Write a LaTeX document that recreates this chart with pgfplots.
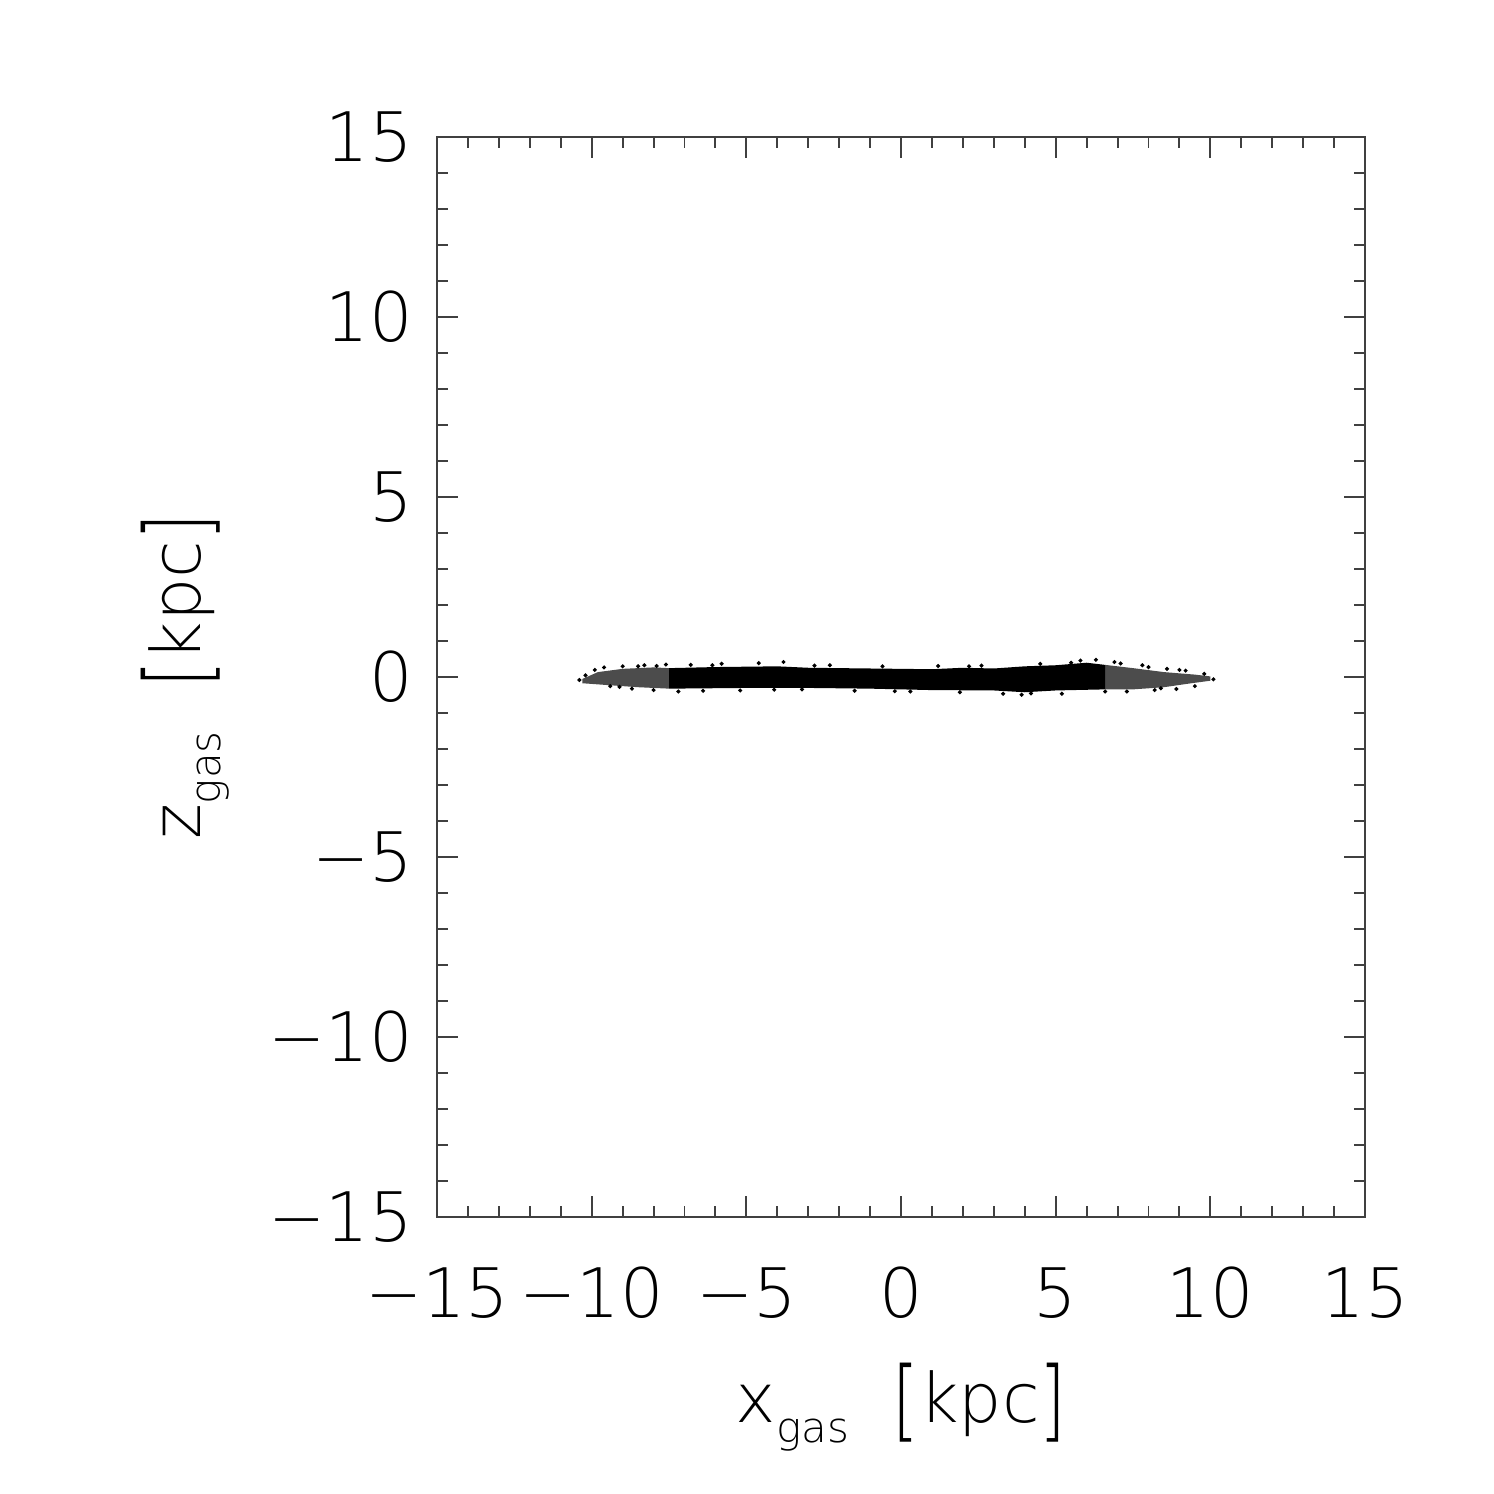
\documentclass[border=0pt]{standalone}
\usepackage{fontspec}
\setmainfont{DejaVu Sans ExtraLight}
\usepackage{pgfplots}
\pgfplotsset{compat=1.18}
\newcommand{\sub}[1]{\raisebox{-0.55ex}{\fontsize{12}{13}\selectfont #1}}
\newcommand{\br}[1]{\raisebox{-0.12em}{\scalebox{1}[1.3]{#1}}}
\begin{document}
\begin{tikzpicture}
\begin{axis}[
  scale only axis,
  width=9.317cm, height=10.843cm,
  xmin=-15, xmax=15, ymin=-15, ymax=15,
  xtick={-15,-10,-5,0,5,10,15},
  ytick={-15,-10,-5,0,5,10,15},
  xticklabels={−15,−10,−5,0,5,10,15},
  yticklabels={−15,−10,−5,0,5,10,15},
  minor x tick num=4, minor y tick num=4,
  tick align=inside,
  major tick length=0.21cm, minor tick length=0.11cm,
  axis line style={line width=0.55pt, black!75},
  every tick/.style={line width=0.55pt, black!75},
  ticklabel style={font=\fontsize{19.5}{22}\selectfont},
  xticklabel style={yshift=-0.38cm},
  yticklabel style={xshift=-0.12cm},
  label style={font=\fontsize{19.5}{22}\selectfont},
  xlabel={x\sub{gas}\ \ \br{[}kpc\br{]}},
  ylabel={z\sub{gas}\ \ \br{[}kpc\br{]}},
  xlabel style={yshift=-0.2cm},
  ylabel style={yshift=0.15cm},
  clip=false,
]
% dense core of the gas disc
\addplot[fill=black, draw=none] coordinates {
(-7.5,0.25) (-6,0.28) (-4,0.3) (-3,0.26) (-1,0.24) (1,0.22) (2,0.26) (3,0.24) (4,0.3) (5,0.33) (6,0.4) (6.6,0.34)
(6.6,-0.34) (5,-0.37) (4,-0.42) (3,-0.37) (1,-0.36) (0,-0.34) (-1,-0.32) (-3,-0.3) (-5,-0.3) (-7.5,-0.32)
} -- cycle;
% sparse outer parts
\addplot[fill=black, fill opacity=0.7, draw=none] coordinates {
(-10.3,-0.05) (-9.8,0.14) (-9,0.23) (-8,0.27) (-7.5,0.25)
(-7.5,-0.32) (-8.5,-0.28) (-9.5,-0.22) (-10.3,-0.17)
} -- cycle;
\addplot[fill=black, fill opacity=0.7, draw=none] coordinates {
(6.6,0.34) (7.5,0.25) (8.5,0.14) (9.5,0.07) (10,0.02)
(10,-0.1) (9.3,-0.18) (8.5,-0.28) (7.5,-0.34) (6.6,-0.34)
} -- cycle;
% stray particles
\addplot[only marks, mark=*, mark size=0.35pt, black] coordinates {
(-10.4,-0.08) (-10.2,0.05) (-9.9,0.2) (-9.6,0.27) (-9.4,-0.25) (-9.0,0.3) (-8.7,-0.32)
(-8.3,0.33) (-8.0,-0.36) (-7.6,0.35) (-7.2,-0.4) (-6.8,0.34) (-6.4,-0.38) (-5.8,0.37)
(-5.2,-0.37) (-4.6,0.39) (-3.8,0.42) (-3.2,-0.34) (-2.3,0.33) (-1.5,-0.38) (-0.6,0.3)
(0.3,-0.4) (1.2,0.31) (1.9,-0.42) (2.6,0.32) (3.3,-0.46) (3.9,-0.49) (4.5,0.37)
(5.2,-0.46) (5.8,0.46) (6.3,0.48) (6.9,0.42) (7.3,-0.4) (7.8,0.33) (8.2,-0.36)
(8.6,0.23) (8.9,-0.33) (9.2,0.18) (9.5,-0.25) (9.8,0.09) (10.1,-0.06)
(-9.1,-0.27) (-8.5,0.3) (-7.9,0.31) (-6.1,0.33) (-4.1,-0.35) (-2.8,0.32) (-0.2,-0.39)
(2.2,0.3) (4.2,-0.45) (5.5,0.4) (6.6,-0.4) (7.1,0.38) (8.0,0.28) (8.4,-0.31) (9.0,0.2)
};
% page extent
\path (axis cs:-29.13,18.81) rectangle (axis cs:19.17,-22.69);
\end{axis}
\end{tikzpicture}
\end{document}
